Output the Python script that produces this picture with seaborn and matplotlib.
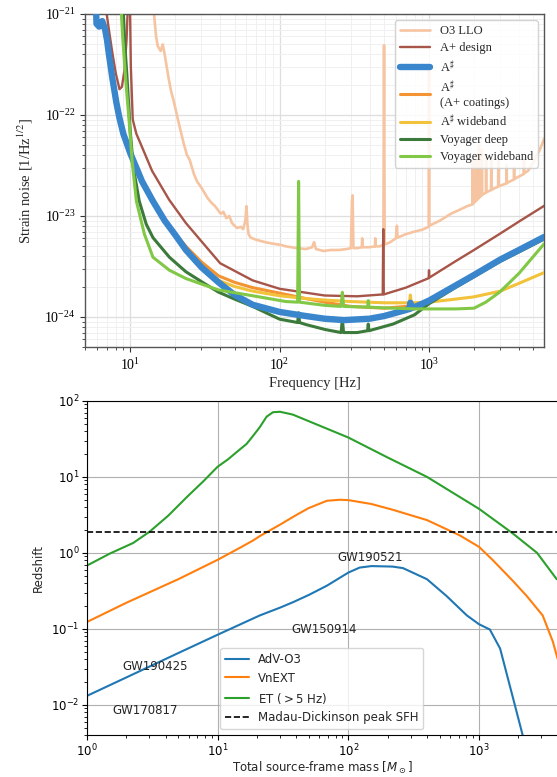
import numpy as np
import pandas as pd
import matplotlib
matplotlib.use("Agg")
import matplotlib.pyplot as plt
import seaborn as sns
from matplotlib.ticker import LogLocator, NullFormatter, LogFormatterSciNotation

# ---------------- top panel data (frequency [Hz], strain noise) ----------------
o3_f = [14.2, 14.9, 15.3, 16.0, 16.5, 17.0, 18.0, 18.8, 19.5, 20.8, 22.0, 22.9, 24.0, 25.0, 26.7,
        28, 30, 33, 35, 37, 40.4, 42, 44, 46, 48, 50, 52, 55, 57, 59, 60, 61, 62, 64, 70, 80, 91,
        100, 110, 120, 131, 150, 165, 170, 175, 197, 220, 250, 280, 300, 305, 308, 312, 330, 355,
        357, 360, 400, 435, 437, 440, 470, 495, 500, 505, 550, 600, 610, 615, 700, 800, 900, 995,
        1000, 1005, 1184, 1400, 1600, 1800, 1950, 1960, 1970, 2050, 2060, 2070, 2150, 2160, 2170,
        2250, 2260, 2270, 2400, 2410, 2420, 2600, 2610, 2620, 2900, 2910, 2920, 3300, 3310, 3320,
        3700, 3710, 3720, 4300, 4320, 4340, 4600, 5000, 5500, 5900]
o3_h = [1.3e-21, 6.0e-22, 4.8e-22, 4.3e-22, 5.0e-22, 4.0e-22, 2.4e-22, 1.7e-22, 1.4e-22, 9.2e-23,
        6.5e-23, 5.1e-23, 4.0e-23, 3.6e-23, 2.6e-23, 2.2e-23, 1.9e-23, 1.5e-23, 1.35e-23, 1.25e-23,
        1.05e-23, 1.1e-23, 9.5e-24, 1.0e-23, 8.5e-24, 8.0e-24, 7.6e-24, 7.8e-24, 7.4e-24, 9.0e-24,
        1.25e-23, 8.0e-24, 6.6e-24, 6.1e-24, 5.8e-24, 5.5e-24, 5.3e-24, 5.2e-24, 5.0e-24, 4.9e-24,
        4.8e-24, 4.7e-24, 4.9e-24, 5.5e-24, 4.7e-24, 4.5e-24, 4.6e-24, 4.6e-24, 4.7e-24, 4.8e-24,
        1.4e-23, 1.6e-23, 4.8e-24, 4.8e-24, 4.9e-24, 6.0e-24, 4.9e-24, 4.9e-24, 5.0e-24, 6.0e-24,
        5.0e-24, 5.0e-24, 5.2e-24, 4.9e-22, 5.2e-24, 5.5e-24, 6.0e-24, 8.0e-24, 6.1e-24, 6.6e-24,
        7.0e-24, 7.3e-24, 7.8e-24, 3.0e-22, 8.0e-24, 9.0e-24, 1.05e-23, 1.15e-23, 1.25e-23, 1.3e-23,
        3.5e-23, 1.32e-23, 1.4e-23, 4.0e-23, 1.42e-23, 1.5e-23, 5.0e-23, 1.52e-23, 1.6e-23, 4.5e-23,
        1.62e-23, 1.7e-23, 4.0e-23, 1.72e-23, 1.8e-23, 3.8e-23, 1.82e-23, 1.95e-23, 3.5e-23, 1.97e-23,
        2.1e-23, 3.2e-23, 2.12e-23, 2.3e-23, 3.0e-23, 2.32e-23, 2.6e-23, 3.8e-23, 2.65e-23, 2.8e-23,
        3.4e-23, 4.5e-23, 5.8e-23]

aplus_f = [6.7, 7.2, 7.6, 8.0, 8.48, 8.8, 9.16, 9.45, 9.7, 9.95, 10.1, 10.4, 11.0, 11.8, 14, 18.2,
           23.6, 30, 40, 66, 100, 200, 330, 490, 494, 498, 700, 995, 1000, 1005, 1500, 2000, 3000,
           4000, 5900]
aplus_h = [1.5e-21, 7e-22, 4.1e-22, 2.6e-22, 1.8e-22, 1.9e-22, 2.8e-22, 5.5e-22, 1.5e-21, 1.5e-21,
           3e-22, 9e-23, 6.5e-23, 5.1e-23, 2.8e-23, 1.45e-23, 8.5e-24, 5.6e-24, 3.4e-24, 2.3e-24,
           1.9e-24, 1.63e-24, 1.6e-24, 1.67e-24, 7.4e-24, 1.67e-24, 1.95e-24, 2.42e-24, 2.9e-24,
           2.45e-24, 3.55e-24, 4.6e-24, 6.7e-24, 8.8e-24, 1.26e-23]

asharp_f = [5.85, 5.95, 6.2, 6.5, 6.8, 7.0, 7.2, 7.6, 8.07, 8.45, 9.0, 10, 11, 12, 14.2, 17, 20,
            23.6, 30, 39, 50, 66, 100, 150, 200, 270, 400, 500, 700, 740, 750, 760, 850, 1000,
            1500, 2000, 3000, 4000, 5900]
asharp_h = [2e-21, 8e-22, 7.5e-22, 8.5e-22, 7e-22, 5.5e-22, 4e-22, 2.3e-22, 1.34e-22, 9.5e-23,
            6.5e-23, 4.2e-23, 3e-23, 2.2e-23, 1.4e-23, 9e-24, 6.5e-24, 4.6e-24, 3.1e-24, 2.2e-24,
            1.65e-24, 1.32e-24, 1.12e-24, 1.02e-24, 9.6e-25, 9.3e-25, 9.6e-25, 1.02e-24, 1.17e-24,
            1.2e-24, 1.38e-24, 1.22e-24, 1.3e-24, 1.45e-24, 2.04e-24, 2.6e-24, 3.7e-24, 4.6e-24,
            6.2e-24]

coat_f = [6.5, 7.2, 8.07, 9.0, 10, 12, 14.2, 17, 20, 23.6, 30, 39, 50, 66, 100, 150, 200, 300,
          500, 700, 850, 1000, 1500, 2000, 3000, 4000, 5900]
coat_h = [8.5e-22, 4e-22, 1.34e-22, 6.5e-23, 4.2e-23, 2.2e-23, 1.4e-23, 9.1e-24, 6.7e-24, 5.0e-24,
          3.5e-24, 2.55e-24, 2.2e-24, 1.95e-24, 1.72e-24, 1.52e-24, 1.4e-24, 1.27e-24, 1.22e-24,
          1.27e-24, 1.33e-24, 1.42e-24, 2.0e-24, 2.55e-24, 3.65e-24, 4.5e-24, 6.1e-24]

wide_f = [6.5, 7.2, 8.07, 9.0, 10, 12, 14.2, 17, 20, 23.6, 30, 39, 50, 66, 100, 150, 200, 300,
          500, 740, 750, 760, 1000, 1500, 2000, 3000, 4000, 5900]
wide_h = [8.5e-22, 4e-22, 1.34e-22, 6.5e-23, 4.2e-23, 2.2e-23, 1.4e-23, 9e-24, 6.5e-24, 4.6e-24,
          3.1e-24, 2.3e-24, 2.0e-24, 1.8e-24, 1.62e-24, 1.52e-24, 1.47e-24, 1.42e-24, 1.38e-24,
          1.38e-24, 1.65e-24, 1.38e-24, 1.4e-24, 1.5e-24, 1.58e-24, 1.8e-24, 2.15e-24, 2.75e-24]

vdeep_f = [8.9, 9.2, 9.5, 10, 10.5, 11.5, 12.8, 14.2, 18.3, 23.6, 30.5, 39, 50, 66, 100, 132, 134,
           136, 150, 202, 258, 263, 268, 330, 388, 392, 396, 575, 800, 1000, 1500, 2000, 3000,
           4000, 5900]
vdeep_h = [1.5e-21, 5e-22, 2.5e-22, 7e-23, 3e-23, 1.4e-23, 8.3e-24, 6.1e-24, 3.9e-24, 2.8e-24,
           2.2e-24, 1.76e-24, 1.5e-24, 1.27e-24, 9.5e-25, 8.8e-25, 1.1e-24, 8.8e-25, 8.4e-25,
           7.5e-25, 7.0e-25, 9.5e-25, 7.0e-25, 7.0e-25, 7.3e-25, 8.5e-25, 7.3e-25, 8.5e-25,
           1.05e-24, 1.35e-24, 1.95e-24, 2.5e-24, 3.55e-24, 4.4e-24, 5.9e-24]

vwide_f = [8.6, 8.9, 9.2, 9.5, 9.85, 10.3, 11.0, 12.45, 14.2, 18.3, 23.6, 30.5, 39, 66, 110, 132,
           134, 136, 202, 258, 263, 268, 388, 392, 396, 500, 800, 1000, 1500, 2000, 2400, 2970,
           4000, 5900]
vwide_h = [1.5e-21, 6e-22, 3e-22, 1.6e-22, 8.5e-23, 3.5e-23, 1.4e-23, 6.6e-24, 3.9e-24, 2.9e-24,
           2.4e-24, 2.1e-24, 1.85e-24, 1.62e-24, 1.42e-24, 1.4e-24, 2.2e-23, 1.4e-24, 1.3e-24,
           1.27e-24, 1.75e-24, 1.27e-24, 1.25e-24, 1.45e-24, 1.25e-24, 1.23e-24, 1.2e-24, 1.2e-24,
           1.2e-24, 1.22e-24, 1.4e-24, 1.76e-24, 2.7e-24, 5.3e-24]

top_labels = ["O3 LLO", "A+ design", r"A$^\sharp$", "A$^\\sharp$\n(A+ coatings)",
              r"A$^\sharp$ wideband", "Voyager deep", "Voyager wideband"]

# ---------------- bottom panel data (total mass [Msun], redshift) ----------------
o3_m = [1, 2, 5, 10, 21, 30, 37.7, 50, 68.6, 100, 122, 150, 218, 262, 400, 565, 808, 1000, 1210,
        1450, 1820, 2200]
o3_z = [0.0131, 0.0229, 0.048, 0.0836, 0.15, 0.19, 0.224, 0.28, 0.37, 0.55, 0.64, 0.67, 0.66,
        0.63, 0.45, 0.27, 0.15, 0.115, 0.098, 0.055, 0.0123, 0.0035]
vn_m = [1, 2, 5, 10, 15, 18.6, 21, 30, 40, 50, 68.6, 86, 100, 150, 218, 400, 712, 1000, 1277,
        1810, 2320, 3070, 3670, 4000]
vn_z = [0.123, 0.22, 0.45, 0.81, 1.18, 1.45, 1.66, 2.35, 3.15, 3.9, 4.85, 5.0, 4.95, 4.4, 3.7,
        2.7, 1.7, 1.2, 0.8, 0.43, 0.27, 0.15, 0.068, 0.04]
et_m = [1, 1.5, 2.26, 3.03, 4.2, 5.8, 7.8, 10, 12, 14.8, 16.6, 18, 21, 23.7, 26.5, 30, 35, 37.7,
        50, 100, 200, 400, 1000, 1800, 2780, 3930]
et_z = [0.68, 0.98, 1.35, 1.91, 3.1, 5.4, 8.8, 13.6, 17, 23, 27, 32, 45, 62, 71, 72, 68, 66,
        54, 33, 18, 10, 3.8, 1.82, 1.0, 0.45]
md_peak_z = 1.86
bottom_labels = ["AdV-O3", "VnEXT", r"ET ($>5$ Hz)", "Madau-Dickinson peak SFH"]

events = ["GW170817", "GW190425", "GW150914", "GW190521"]
event_m = [2.78, 3.34, 65.6, 148]
event_z = [0.0083, 0.032, 0.097, 0.86]

# ---------------- style ----------------
sns.set_style("ticks")
plt.rcParams["font.family"] = ["DejaVu Sans"]
plt.rcParams["font.size"] = 8.5
plt.rcParams["mathtext.fontset"] = "dejavusans"

fig = plt.figure(figsize=(5.57, 7.77), dpi=100)
ax1 = fig.add_axes([0.153, 0.553, 0.824, 0.429])
ax2 = fig.add_axes([0.156, 0.054, 0.844, 0.430])

SERIF = "Liberation Serif"

# ---------------- top panel ----------------
ax1.set_xscale("log")
ax1.set_yscale("log")
top_series = [
    (o3_f, o3_h, "#f6c4a0", 1.9, 1),
    (aplus_f, aplus_h, "#a65548", 1.7, 2),
    (asharp_f, asharp_h, "#3a86cc", 4.6, 5),
    (coat_f, coat_h, "#f39332", 2.2, 3),
    (wide_f, wide_h, "#f2c23a", 2.2, 3),
    (vdeep_f, vdeep_h, "#3b7a3b", 2.2, 4),
    (vwide_f, vwide_h, "#80c846", 2.2, 6),
]
for (fx, hy, col, lw, zo), lab in zip(top_series, top_labels):
    df = pd.DataFrame({"f": fx, "h": hy})
    sns.lineplot(data=df, x="f", y="h", ax=ax1, color=col, lw=lw, label=lab,
                 estimator=None, sort=False, zorder=zo)

ax1.set_xlim(5, 5900)
ax1.set_ylim(5e-25, 1e-21)
ax1.xaxis.set_major_locator(LogLocator(base=10, numticks=10))
ax1.yaxis.set_major_locator(LogLocator(base=10, numticks=10))
ax1.xaxis.set_minor_locator(LogLocator(base=10, subs=np.arange(2, 10), numticks=20))
ax1.yaxis.set_minor_locator(LogLocator(base=10, subs=np.arange(2, 10), numticks=20))
ax1.xaxis.set_major_formatter(LogFormatterSciNotation())
ax1.yaxis.set_major_formatter(LogFormatterSciNotation())
ax1.xaxis.set_minor_formatter(NullFormatter())
ax1.yaxis.set_minor_formatter(NullFormatter())
ax1.tick_params(which="both", direction="out", labelsize=10, labelfontfamily=SERIF,
                colors="#333333", labelcolor="black")
ax1.tick_params(which="major", length=3.5, width=0.8)
ax1.tick_params(which="minor", length=2, width=0.6)
ax1.grid(which="major", color="#dedede", lw=0.9)
ax1.grid(which="minor", color="#f0f0f0", lw=0.7)
ax1.set_axisbelow(True)
for s in ax1.spines.values():
    s.set_color("#555555")
    s.set_linewidth(1.0)
ax1.set_xlabel("Frequency [Hz]", fontsize=10.5, fontfamily=SERIF, labelpad=3)
ax1.set_ylabel(r"Strain noise [1/Hz$^{1/2}$]", fontsize=10.5, fontfamily=SERIF,
               math_fontfamily="stix", labelpad=7)
h1, l1 = ax1.get_legend_handles_labels()
leg1 = ax1.legend(h1, l1, loc="upper right", prop={"family": SERIF, "size": 9},
                  framealpha=0.85, handlelength=2.4, labelspacing=0.38, fancybox=True)
for t in leg1.get_texts():
    t.set_math_fontfamily("stix")

# ---------------- bottom panel ----------------
ax2.set_xscale("log")
ax2.set_yscale("log")
for mx, zy, col, lab in [(o3_m, o3_z, "tab:blue", bottom_labels[0]),
                         (vn_m, vn_z, "tab:orange", bottom_labels[1]),
                         (et_m, et_z, "tab:green", bottom_labels[2])]:
    df = pd.DataFrame({"M": mx, "z": zy})
    sns.lineplot(data=df, x="M", y="z", ax=ax2, color=col, lw=1.5, label=lab,
                 estimator=None, sort=False)
ax2.axhline(md_peak_z, color="black", ls="--", lw=1.2, label=bottom_labels[3])
for name, m, z in zip(events, event_m, event_z):
    ax2.text(m, z, name, ha="center", va="center", fontsize=8.5)

ax2.set_xlim(1, 3950)
ax2.set_ylim(4e-3, 100)
ax2.grid(which="major", color="#b0b0b0", lw=0.8)
ax2.tick_params(which="both", direction="out", labelsize=8.5, colors="black")
ax2.tick_params(which="major", length=3.5, width=0.8, pad=2)
ax2.tick_params(which="minor", length=2, width=0.6)
for s in ax2.spines.values():
    s.set_color("black")
    s.set_linewidth(0.8)
ax2.spines["right"].set_visible(False)
ax2.set_xlabel(r"Total source-frame mass [$M_\odot$]", fontsize=8.5, labelpad=0.5)
ax2.set_ylabel("Redshift", fontsize=8.5)
h2, l2 = ax2.get_legend_handles_labels()
ax2.legend(h2, l2, loc="lower center", fontsize=8.5, framealpha=0.8)

# draw once so tick labels exist, then render the top panel's math in STIX
fig.canvas.draw()
for axis in (ax1.xaxis, ax1.yaxis):
    for tk in axis.get_major_ticks() + axis.get_minor_ticks():
        tk.label1.set_math_fontfamily("stix")
        tk.label2.set_math_fontfamily("stix")

fig.savefig("out.png", dpi=100)
